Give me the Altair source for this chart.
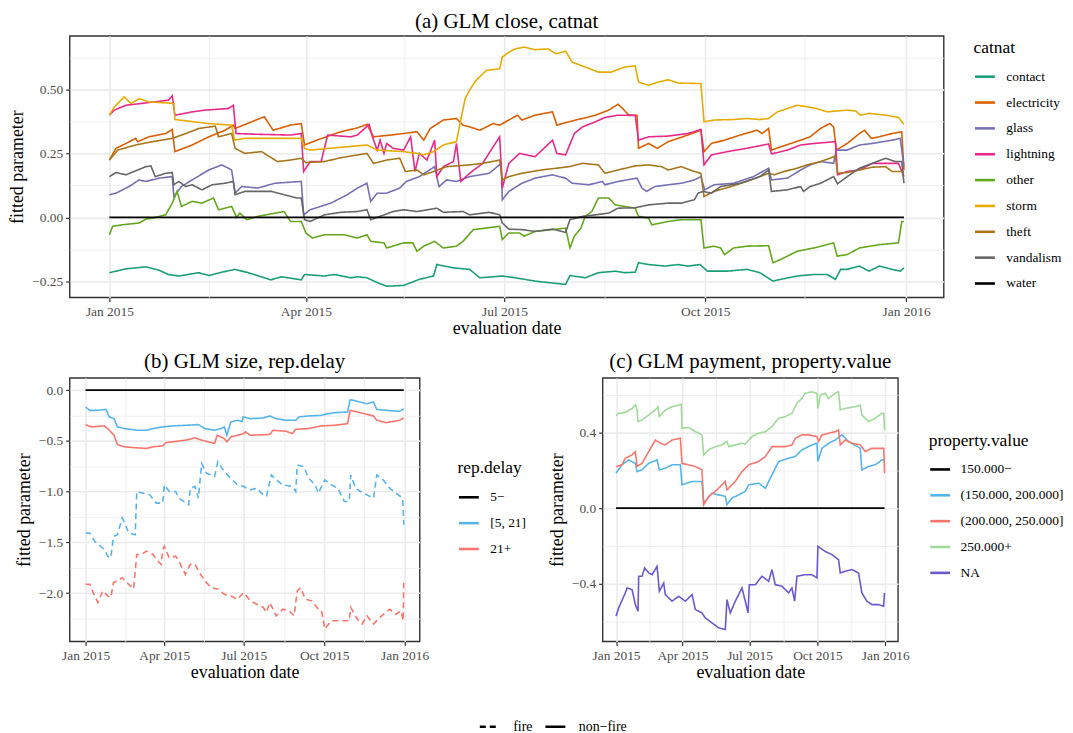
import altair as alt
import pandas as pd

BASE = pd.Timestamp("2015-01-01")
FONT = "Liberation Serif"

# ---------------- panel (a): GLM close, catnat  (day offset from 2015-01-01, value)
CAT_NAMES = ["contact", "electricity", "glass", "lightning", "other", "storm", "theft", "vandalism", "water"]
CAT_COLORS = ["#1B9E77", "#D95F02", "#7570B3", "#E7298A", "#66A61E", "#E6AB02", "#A6761D", "#666666", "#000000"]

CONTACT = [(0,-0.217),(7.6,-0.202),(16.7,-0.194),(22.7,-0.207),(27,-0.224),(31.8,-0.230),(41,-0.217),(45.5,-0.228),
           (51.5,-0.215),(57.6,-0.204),(63.6,-0.217),(71,-0.237),(74,-0.245),(78.8,-0.233),(87.9,-0.245),(89.4,-0.224),
           (98.5,-0.230),(103,-0.224),(110.6,-0.237),(113.6,-0.233),(118,-0.237),(122.7,-0.256),(127,-0.270),(134.8,-0.267),
           (142,-0.243),(148.5,-0.230),(150,-0.185),(157.6,-0.198),(165,-0.204),(169.7,-0.237),(180,-0.230),(186,-0.237),
           (195,-0.250),(209,-0.263),(211,-0.228),(218,-0.237),(224,-0.217),(231.8,-0.211),(236,-0.217),(240.9,-0.215),
           (242.4,-0.178),(247,-0.185),(254.5,-0.191),(260.6,-0.185),(265,-0.191),(270.5,-0.185),(274,-0.211),(283,-0.211),
           (292,-0.204),(298,-0.217),(304,-0.250),(307.6,-0.243),(315,-0.230),(322.7,-0.224),(328.8,-0.224),(332.6,-0.243),
           (335,-0.204),(338,-0.204),(343.6,-0.191),(348,-0.211),(352.7,-0.191),(358.6,-0.204),(362.3,-0.211),(364,-0.198)]
ELECTRICITY = [(0,0.225),(3,0.271),(7.6,0.290),(12,0.310),(13,0.297),(18,0.316),(25.8,0.329),(28.8,0.345),(30,0.258),
               (37.9,0.284),(45.5,0.316),(53,0.342),(56.8,0.362),(57.6,0.349),(71,0.395),(75,0.342),(83,0.362),(87.9,0.368),
               (89.4,0.284),(95,0.303),(106,0.336),(113.6,0.351),(118,0.365),(121,0.316),(128.8,0.323),(134.8,0.329),
               (140.9,0.336),(144,0.303),(147,0.349),(153,0.382),(159,0.388),(162,0.362),(165,0.355),(169.7,0.342),
               (175.8,0.368),(178.8,0.362),(183,0.382),(187,0.401),(189,0.382),(195,0.401),(203,0.414),(205,0.362),
               (213.6,0.382),(216.7,0.388),(222.7,0.401),(228.8,0.421),(233,0.444),(234.8,0.430),(238,0.401),(241.7,0.401),
               (242.4,0.271),(247,0.290),(251,0.271),(256,0.297),(265,0.323),(271,0.342),(272.4,0.258),(275.8,0.290),
               (281.8,0.303),(289,0.323),(296.7,0.342),(299,0.329),(302,0.349),(303.3,0.264),(307.6,0.277),(316.7,0.303),
               (321,0.316),(325.8,0.349),(330,0.368),(331.8,0.355),(333,0.264),(338,0.290),(343.6,0.329),(346,0.342),
               (349,0.310),(352.7,0.316),(358.6,0.329),(363,0.336),(364,0.186)]
GLASS = [(0,0.089),(3,0.095),(9,0.121),(13.6,0.147),(16.7,0.141),(22.7,0.154),(28.8,0.160),(29.5,0.082),(33,0.121),
         (37.9,0.147),(45.5,0.186),(51.5,0.206),(56,0.186),(57.6,0.095),(60.6,0.121),(68,0.115),(75.8,0.134),(87.9,0.141),
         (89,0.010),(92,0.030),(101.5,0.056),(109,0.089),(113.6,0.115),(118,0.134),(119.7,0.063),(122.7,0.095),(127,0.095),
         (133,0.115),(136,0.141),(142,0.160),(149,0.199),(151,0.121),(154.5,0.147),(159,0.141),(165,0.160),(174,0.173),
         (179.5,0.212),(180,0.069),(183,0.102),(189,0.134),(195,0.154),(203,0.167),(209,0.154),(212,0.134),(219.7,0.128),
         (225.8,0.141),(227,0.128),(233,0.141),(241.7,0.154),(244,0.115),(246,0.102),(250,0.121),(256,0.128),(262,0.134),
         (268,0.147),(271,0.160),(272.7,0.108),(277,0.128),(286,0.134),(295,0.160),(302,0.193),(303.3,0.147),(310.6,0.154),
         (316.7,0.186),(321,0.206),(325.8,0.219),(331.8,0.212),(333,0.264),(338,0.264),(343.6,0.284),(349.5,0.290),
         (358.6,0.303),(362.3,0.310),(364,0.199)]
LIGHTNING = [(0,0.401),(2.3,0.421),(7.6,0.440),(16.7,0.449),(27,0.460),(28.8,0.477),(30,0.401),(37.9,0.414),(44,0.421),
             (54.5,0.427),(56.8,0.440),(58,0.329),(68,0.326),(83,0.323),(87.9,0.329),(89,0.180),(92,0.219),(97,0.219),
             (100,0.323),(110.6,0.316),(113.6,0.323),(119,0.365),(120.5,0.316),(122.7,0.264),(124,0.303),(125.8,0.251),
             (127,0.290),(130,0.271),(134.8,0.264),(138,0.316),(140,0.180),(142,0.251),(145.5,0.225),(149,0.303),(150,0.160),
             (153,0.199),(157.6,0.219),(159,0.290),(161,0.141),(165,0.173),(171,0.212),(175.8,0.277),(178.8,0.316),
             (180,0.115),(183,0.212),(187.9,0.251),(195,0.238),(203,0.303),(205,0.251),(209,0.245),(213,0.329),
             (216.7,0.355),(222.7,0.375),(227,0.392),(233,0.401),(240.9,0.400),(242.4,0.303),(247,0.316),(256,0.319),
             (265,0.329),(271,0.345),(272.4,0.206),(275.8,0.245),(283,0.258),(292,0.271),(302,0.288),(303.3,0.249),
             (310.6,0.264),(316.7,0.284),(322.7,0.290),(332.6,0.297),(333.6,0.167),(338,0.180),(343.6,0.186),
             (349.5,0.212),(361.5,0.212),(364,0.160)]
OTHER = [(0,-0.068),(1.5,-0.035),(6,-0.029),(13.6,-0.022),(16.7,-0.007),(19.7,-0.003),(25.8,0.010),(28.8,0.056),(31,0.102),
         (33,0.043),(37.9,0.063),(42.4,0.056),(47.7,0.076),(50,0.030),(56,0.043),(58.3,0.000),(59.8,0.017),(62.9,-0.009),
         (68,0.004),(80,0.023),(83,-0.016),(87.9,-0.016),(90,-0.061),(93,-0.081),(98.5,-0.068),(107.6,-0.068),
         (113.6,-0.081),(118,-0.068),(119.7,-0.094),(125.8,-0.100),(127,-0.120),(134.8,-0.100),(139,-0.100),
         (140.9,-0.133),(144,-0.113),(149,-0.094),(153,-0.120),(159,-0.113),(162,-0.094),(166.7,-0.048),(178.8,-0.035),
         (180,-0.087),(183,-0.061),(187.9,-0.061),(190,-0.074),(195,-0.055),(203,-0.048),(209,-0.042),(211,-0.120),
         (213,-0.074),(216,-0.042),(218,0.004),(221,0.023),(224,0.076),(228.8,0.076),(231.8,0.049),(236,0.043),
         (240.9,0.036),(242.4,0.004),(247,-0.003),(248.5,-0.029),(256,-0.016),(262,-0.009),(271,-0.009),(272.4,-0.120),
         (277,-0.113),(280,-0.120),(281.8,-0.146),(286,-0.120),(292,-0.113),(302,-0.111),(304,-0.178),(307.6,-0.165),
         (315,-0.133),(322.7,-0.120),(331.8,-0.100),(333.4,-0.152),(338,-0.146),(343.6,-0.120),(352.7,-0.107),
         (361.5,-0.100),(363,-0.016),(364,-0.016)]
STORM = [(0,0.401),(2.3,0.434),(6.8,0.473),(9.8,0.447),(13.6,0.466),(18,0.453),(27,0.449),(29.5,0.446),(30,0.384),
         (45.5,0.368),(56,0.362),(57.3,0.303),(62,0.310),(87.9,0.310),(89.4,0.271),(92,0.264),(106,0.275),(118,0.284),
         (122.7,0.264),(134.8,0.258),(140.9,0.251),(144,0.245),(148.5,0.258),(153,0.284),(159,0.297),(160.6,0.368),
         (163,0.466),(165,0.499),(168,0.538),(172.7,0.577),(178.8,0.583),(180,0.629),(183,0.648),(186,0.661),(190,0.668),
         (195,0.658),(201,0.661),(204.5,0.642),(209,0.652),(212,0.609),(218,0.590),(224,0.570),(230,0.570),(236,0.590),
         (240.9,0.594),(242.4,0.531),(247,0.518),(251.5,0.531),(256,0.540),(260.6,0.527),(271,0.525),(272.4,0.375),
         (277,0.382),(286,0.384),(292,0.388),(298,0.384),(302,0.388),(306,0.414),(310.6,0.427),(315,0.440),(319.7,0.434),
         (324,0.427),(328.8,0.414),(338,0.421),(342,0.417),(344,0.401),(348,0.408),(355.6,0.401),(361.5,0.392),(364,0.365)]
THEFT = [(0,0.225),(3.8,0.264),(12,0.284),(19.7,0.297),(28.8,0.310),(35,0.329),(41,0.349),(48.5,0.358),(50,0.316),
         (56,0.329),(57.6,0.271),(62,0.251),(69.7,0.258),(77,0.219),(83,0.225),(87.9,0.232),(90,0.215),(98.5,0.219),
         (106,0.234),(113.6,0.245),(118,0.251),(121,0.212),(127,0.225),(133,0.232),(135.6,0.180),(140.9,0.186),
         (144,0.167),(148.5,0.180),(154.5,0.199),(165,0.206),(171,0.212),(178.8,0.225),(180,0.147),(183,0.160),
         (189,0.173),(198,0.186),(210.6,0.199),(216.7,0.212),(224,0.206),(227,0.173),(233,0.186),(240.9,0.202),
         (247,0.206),(253,0.199),(256,0.186),(262,0.199),(268,0.180),(271,0.173),(272.4,0.082),(277,0.102),
         (284.8,0.121),(292,0.141),(298,0.160),(302,0.173),(304.5,0.167),(309,0.180),(315,0.193),(319.7,0.206),
         (325.8,0.219),(330,0.232),(332.6,0.241),(333.6,0.173),(338,0.176),(343.6,0.186),(349.5,0.197),(355.6,0.199),
         (358.6,0.180),(364,0.180)]
VANDALISM = [(0,0.160),(3,0.176),(7.6,0.167),(16.7,0.199),(19,0.202),(21,0.160),(25.8,0.173),(28.8,0.176),(29.5,0.128),
             (31.8,0.141),(35,0.121),(37.9,0.128),(42.4,0.108),(47,0.128),(53,0.134),(56.8,0.141),(57.6,0.089),(62,0.102),
             (74,0.102),(86,0.076),(87.9,0.076),(89.4,-0.009),(92,-0.016),(98.5,0.010),(106,0.020),(113.6,0.023),
             (118,0.030),(119.7,-0.009),(124,0.004),(130,0.023),(134.8,0.030),(140.9,0.023),(150,0.036),(153,0.020),
             (162,0.023),(165,0.010),(174,0.020),(178.8,0.010),(180,-0.022),(183,-0.046),(189,-0.048),(195,-0.055),
             (203,-0.046),(209,-0.059),(211,-0.009),(216.7,0.004),(222.7,0.010),(228.8,0.017),(233,0.036),(240.9,0.038),
             (247,0.049),(256,0.056),(262,0.056),(268,0.069),(269.7,0.095),(272,0.102),(275.8,0.095),(280,0.121),
             (289,0.134),(298,0.160),(302,0.186),(303.3,0.102),(310.6,0.108),(316.7,0.121),(318,0.102),(321,0.121),
             (325.8,0.134),(331.8,0.160),(333.6,0.132),(338,0.160),(343.6,0.193),(349.5,0.212),(355.6,0.232),(360,0.219),
             (363,0.219),(364,0.134)]
WATER = [(0,0.0),(364,0.0)]

# ---------------- panel (b): GLM size, rep.delay
DELAY_NAMES = ["5\u2212", "[5, 21]", "21+"]
DELAY_COLORS = ["#000000", "#56B4E9", "#F8766D"]
B_BASE = [(0,0.0),(364,0.0)]
B_MID_NONFIRE = [(0,-0.166),(4.8,-0.199),(14.1,-0.199),(23.4,-0.189),(27.1,-0.264),(32.6,-0.281),(36.4,-0.362),
                 (43.8,-0.378),(51.2,-0.385),(58.6,-0.395),(69.7,-0.395),(77.2,-0.378),(88.3,-0.362),(99.4,-0.352),
                 (114.2,-0.346),(129.1,-0.339),(136.5,-0.378),(147.6,-0.395),(155,-0.378),(158.8,-0.362),(161.7,-0.444),
                 (166.2,-0.313),(173.6,-0.297),(179.2,-0.307),(180.3,-0.264),(188.4,-0.281),(203.3,-0.274),(210.7,-0.254),
                 (218.1,-0.281),(229.2,-0.297),(240.4,-0.297),(244.1,-0.264),(255.2,-0.254),(270,-0.248),(277.4,-0.232),
                 (284.9,-0.222),(299.7,-0.215),(302.7,-0.095),(307.1,-0.101),(314.5,-0.117),(321.9,-0.134),(329.4,-0.117),
                 (333.1,-0.189),(344.2,-0.199),(359,-0.209),(364,-0.183)]
B_LATE_NONFIRE = [(0,-0.339),(6.7,-0.362),(21.5,-0.352),(25.2,-0.378),(32.6,-0.444),(36.4,-0.535),(43.8,-0.558),
                  (58.6,-0.568),(69.7,-0.574),(77.2,-0.558),(88.3,-0.548),(92,-0.516),(99.4,-0.509),(114.2,-0.493),
                  (125.4,-0.470),(132.8,-0.493),(147.6,-0.525),(150.6,-0.444),(158.8,-0.477),(161.7,-0.509),(166.2,-0.460),
                  (173.6,-0.444),(181,-0.427),(182.9,-0.411),(188.4,-0.444),(210.7,-0.437),(214.4,-0.395),(229.2,-0.405),
                  (236.6,-0.427),(240.4,-0.385),(255.2,-0.378),(270,-0.352),(284.9,-0.346),(299.7,-0.330),(302.7,-0.199),
                  (314.5,-0.222),(329.4,-0.254),(333.1,-0.297),(344.2,-0.320),(359,-0.297),(364,-0.274)]
B_MID_FIRE = [(0,-1.406),(4.8,-1.406),(10.4,-1.488),(21.5,-1.569),(25.2,-1.635),(28.9,-1.651),(31.9,-1.439),(36.4,-1.423),
              (41.9,-1.259),(45.6,-1.325),(49.3,-1.406),(56.8,-1.423),(58.6,-0.998),(66,-1.015),(73.4,-1.031),(80.9,-1.113),
              (88.3,-1.113),(90.1,-0.933),(95.7,-0.998),(103.1,-0.998),(106.8,-1.064),(118,-1.129),(119.8,-0.966),
              (125.4,-0.949),(129.1,-1.064),(132.8,-0.721),(138.4,-0.819),(143.9,-0.835),(147.6,-0.851),(151.3,-0.705),
              (158.8,-0.803),(166.2,-0.868),(173.6,-0.933),(181,-0.949),(188.4,-0.982),(195.8,-0.966),(203.3,-1.031),
              (207,-1.047),(212.5,-0.835),(218.1,-0.884),(225.5,-0.933),(236.6,-0.949),(240.4,-0.998),(242.2,-0.737),
              (249.6,-0.754),(255.2,-0.868),(262.6,-0.933),(266.3,-1.015),(273.7,-0.884),(281.2,-0.933),(288.6,-0.966),
              (296,-1.096),(301.6,-1.096),(303.4,-0.835),(309,-0.966),(314.5,-0.998),(321.9,-1.031),(329.4,-1.064),
              (333.1,-0.835),(340.5,-0.884),(347.9,-0.966),(355.3,-1.015),(362.8,-1.064),(364,-1.325)]
B_LATE_FIRE = [(0,-1.912),(4.8,-1.912),(10.4,-2.026),(14.1,-2.091),(19.7,-1.977),(25.2,-2.026),(28.9,-2.042),
               (31.9,-1.896),(36.4,-1.879),(41.9,-1.847),(47.5,-1.896),(54.9,-1.958),(58.6,-1.618),(64.2,-1.618),
               (69.7,-1.586),(77.2,-1.618),(80.9,-1.667),(86.4,-1.716),(88.3,-1.569),(90.1,-1.537),(95.7,-1.651),
               (103.1,-1.635),(106.8,-1.684),(114.2,-1.814),(119.8,-1.716),(125.4,-1.716),(129.1,-1.781),(136.5,-1.879),
               (143.9,-1.945),(151.3,-1.958),(158.8,-2.010),(166.2,-2.026),(173.6,-2.059),(181,-1.994),(188.4,-2.075),
               (195.8,-2.108),(203.3,-2.140),(207,-2.189),(210.7,-2.091),(218.1,-2.222),(225.5,-2.157),(232.9,-2.173),
               (238.5,-2.222),(242.2,-1.977),(245.9,-1.945),(251.5,-2.059),(258.9,-2.075),(266.3,-2.157),(270,-2.173),
               (273.7,-2.352),(281.2,-2.271),(292.3,-2.271),(301.6,-2.271),(303.4,-2.140),(310.8,-2.254),(316.4,-2.303),
               (321.9,-2.222),(329.4,-2.303),(336.8,-2.238),(347.9,-2.157),(355.3,-2.206),(360.9,-2.173),(363.3,-2.271),
               (364,-1.896)]

# ---------------- panel (c): GLM payment, property.value
PROP_NAMES = ["150.000\u2212", "(150.000, 200.000]", "(200.000, 250.000]", "250.000+", "NA"]
PROP_COLORS = ["#000000", "#56B4E9", "#F8766D", "#A1D99B", "#6A5ACD"]
C_BASE = [(0,0.0),(364,0.0)]
C_150 = [(0,0.185),(8.1,0.229),(17.2,0.255),(26.2,0.237),(28.5,0.193),(35.2,0.202),(44.3,0.237),(55.6,0.255),(58.7,0.202),
         (66.8,0.211),(75.9,0.229),(87.2,0.229),(89.4,0.123),(103,0.141),(116.5,0.141),(118.8,0.026),(130.1,0.079),
         (139.1,0.070),(148.1,0.062),(150.4,0.018),(157.2,0.053),(166.2,0.070),(175.2,0.088),(179.8,0.123),(193.3,0.132),
         (202.4,0.105),(211.4,0.176),(220.4,0.246),(234,0.264),(243,0.273),(252,0.308),(265.6,0.334),(272.4,0.343),
         (273.7,0.246),(279.1,0.316),(288.2,0.343),(297.2,0.360),(306.2,0.387),(315.3,0.352),(331.1,0.316),(333.3,0.202),
         (342.4,0.220),(351.4,0.229),(360.4,0.255),(364,0.255)]
C_200 = [(0,0.220),(8.1,0.229),(12.6,0.264),(21.7,0.281),(26.2,0.299),(28.5,0.220),(35.2,0.237),(44.3,0.299),(53.3,0.360),
         (60.1,0.343),(66.8,0.334),(75.9,0.360),(87.2,0.369),(89.4,0.237),(107.5,0.220),(116.5,0.202),(118.8,0.018),
         (125.6,0.062),(134.6,0.088),(143.6,0.123),(148.1,0.141),(150.4,0.097),(161.7,0.141),(170.7,0.193),(179.8,0.229),
         (193.3,0.246),(202.4,0.273),(211.4,0.325),(229.4,0.325),(238.5,0.334),(243,0.369),(252,0.387),(261,0.387),
         (272.4,0.378),(274.6,0.352),(279.1,0.387),(288.2,0.396),(297.2,0.404),(301.7,0.413),(304,0.334),(310.8,0.360),
         (319.8,0.343),(331.1,0.334),(337.9,0.299),(346.9,0.316),(363,0.316),(364,0.185)]
C_250 = [(0,0.489),(3.6,0.501),(12.6,0.506),(21.7,0.527),(26.2,0.545),(28.5,0.519),(29.8,0.457),(35.2,0.466),(44.3,0.492),
         (53.3,0.519),(56.9,0.536),(58.7,0.484),(66.8,0.519),(75.9,0.536),(84.9,0.545),(88.5,0.549),(89.4,0.422),
         (98.5,0.426),(107.5,0.404),(116.5,0.387),(118.8,0.281),(125.6,0.308),(134.6,0.325),(143.6,0.334),(150.4,0.352),
         (152.7,0.325),(161.7,0.334),(170.7,0.343),(175.2,0.338),(184.3,0.378),(193.3,0.396),(202.4,0.404),(211.4,0.431),
         (220.4,0.475),(229.4,0.484),(238.5,0.501),(245.3,0.554),(252,0.580),(256.5,0.607),(265.6,0.615),(272.4,0.607),
         (273.7,0.527),(276.9,0.598),(283.6,0.607),(288.2,0.580),(297.2,0.607),(301.7,0.615),(304,0.519),(310.8,0.527),
         (324.3,0.536),(331.1,0.545),(333.3,0.492),(342.4,0.457),(351.4,0.475),(360.4,0.501),(363,0.501),(364,0.413)]
C_NA = [(0,-0.571),(3.6,-0.527),(12.6,-0.448),(14.9,-0.422),(21.7,-0.431),(26.2,-0.510),(29.8,-0.545),(30.7,-0.360),
        (35.2,-0.360),(38.8,-0.316),(44.3,-0.343),(48.8,-0.352),(55.6,-0.308),(58.7,-0.440),(64.6,-0.396),(66.8,-0.457),
        (75.9,-0.492),(84.9,-0.466),(94,-0.492),(103,-0.457),(107.5,-0.536),(116.5,-0.554),(121,-0.580),(130.1,-0.607),
        (139.1,-0.633),(148.1,-0.642),(150.4,-0.484),(154.9,-0.554),(161.7,-0.492),(170.7,-0.422),(175.2,-0.492),
        (178.9,-0.554),(180.7,-0.405),(188.8,-0.405),(197.8,-0.360),(206.9,-0.387),(211.4,-0.325),(215.9,-0.405),
        (224.9,-0.413),(234,-0.448),(238.5,-0.422),(242.1,-0.492),(245.3,-0.360),(256.5,-0.352),(265.6,-0.352),
        (272.4,-0.369),(273.7,-0.202),(283.6,-0.229),(292.7,-0.246),(301.7,-0.273),(304,-0.343),(310.8,-0.334),
        (319.8,-0.325),(328.8,-0.343),(333.3,-0.448),(340.1,-0.492),(346.9,-0.510),(355.9,-0.510),(362.7,-0.519),
        (364,-0.448)]

DASH_NAMES = ["fire", "non\u2212fire"]
FIRE, NONFIRE = DASH_NAMES


def build(series):
    rows = []
    for name, kind, pts in series:
        for d, v in pts:
            rows.append({"cat": name, "type": kind,
                         "date": (BASE + pd.Timedelta(days=d)).strftime("%Y-%m-%dT%H:%M:%S"),
                         "value": v})
    return pd.DataFrame(rows)


df_a = build([(n, NONFIRE, s) for n, s in zip(CAT_NAMES, [CONTACT, ELECTRICITY, GLASS, LIGHTNING, OTHER, STORM,
                                                           THEFT, VANDALISM, WATER])])
df_b = build([(DELAY_NAMES[0], NONFIRE, B_BASE),
              (DELAY_NAMES[1], FIRE, B_MID_FIRE), (DELAY_NAMES[2], FIRE, B_LATE_FIRE),
              (DELAY_NAMES[1], NONFIRE, B_MID_NONFIRE), (DELAY_NAMES[2], NONFIRE, B_LATE_NONFIRE)])
df_c = build([(n, NONFIRE, s) for n, s in zip(PROP_NAMES, [C_BASE, C_150, C_200, C_250, C_NA])])

MAJOR = [alt.DateTime(year=2015, month=m, date=1) for m in (1, 4, 7, 10)] + [alt.DateTime(year=2016, month=1, date=1)]
MINOR = [alt.DateTime(year=2015, month=2, date=15, hours=12), alt.DateTime(year=2015, month=5, date=16),
         alt.DateTime(year=2015, month=8, date=16), alt.DateTime(year=2015, month=11, date=15, hours=12)]
XDOM = [alt.DateTime(year=2014, month=12, date=13, hours=19), alt.DateTime(year=2016, month=1, date=18, hours=5)]

GRID = "#EBEBEB"
MAJ_X = "date(datum.value) == 1"


def x_enc():
    return alt.X("date:T", title="evaluation date",
                 scale=alt.Scale(domain=XDOM, nice=False),
                 axis=alt.Axis(values=MAJOR + MINOR, labelOverlap=False, labelFlush=False, titlePadding=2,
                               labelExpr=f"{MAJ_X} ? timeFormat(datum.value, '%b %Y') : ''",
                               gridWidth={"condition": {"test": MAJ_X, "value": 1.6}, "value": 0.8},
                               tickOpacity={"condition": {"test": MAJ_X, "value": 1}, "value": 0}))


def y_enc(domain, major, minor, fmt):
    step = major[0] - major[1]
    test = f"abs(datum.value / {step} - round(datum.value / {step})) < 0.001"
    return alt.Y("value:Q", title="fitted parameter",
                 scale=alt.Scale(domain=domain, nice=False, zero=False),
                 axis=alt.Axis(values=major + minor, labelOverlap=False, labelFlush=False, titlePadding=5,
                               labelExpr=f"{test} ? format(datum.value, '{fmt}') : ''",
                               gridWidth={"condition": {"test": test, "value": 1.6}, "value": 0.8},
                               tickOpacity={"condition": {"test": test, "value": 1}, "value": 0}))


def color_enc(title, names, colors, lx, ly, loff):
    return alt.Color("cat:N", scale=alt.Scale(domain=names, range=colors),
                     legend=alt.Legend(title=title, orient="none", legendX=lx, legendY=ly,
                                       symbolType="stroke", symbolSize=400,
                                       symbolStrokeWidth=2.6, rowPadding=8, labelOffset=loff,
                                       titlePadding=9, labelFontSize=13.5, titleFontSize=17.5))


dash_enc = alt.StrokeDash("type:N", scale=alt.Scale(domain=DASH_NAMES, range=[[6, 4], [1, 0]]),
                          legend=alt.Legend(title=None, orient="none", direction="horizontal",
                                            legendX=411, legendY=683, symbolType="stroke", symbolSize=400,
                                            symbolStrokeColor="black", symbolStrokeWidth=2.6,
                                            labelOffset=12, columnPadding=7, labelFontSize=14))


def panel(df, title, ltitle, names, colors, ydom, ymaj, ymin, fmt, w, h, lx, ly, loff, toff):
    return alt.Chart(df).mark_line(strokeWidth=1.6).encode(
        x=x_enc(),
        y=y_enc(ydom, ymaj, ymin, fmt),
        color=color_enc(ltitle, names, colors, lx, ly, loff),
        strokeDash=dash_enc,
        detail="type:N",
    ).properties(width=w, height=h,
                 title=alt.TitleParams(title, fontSize=21, font=FONT, fontWeight="normal", offset=toff))


pa = panel(df_a, "(a) GLM close, catnat", "catnat", CAT_NAMES, CAT_COLORS, [-0.314, 0.712],
           [0.5, 0.25, 0.0, -0.25], [0.625, 0.375, 0.125, -0.125], ".2f", 879, 263, 909, 3, 10, 4)
pb = panel(df_b, "(b) GLM size, rep.delay", "rep.delay", DELAY_NAMES, DELAY_COLORS, [-2.475, 0.12],
           [0.0, -0.5, -1.0, -1.5, -2.0], [-0.25, -0.75, -1.25, -1.75, -2.25], ".1f", 352, 265, 390, 82, 10, 6)
pc = panel(df_c, "(c) GLM payment, property.value", "property.value", PROP_NAMES, PROP_COLORS, [-0.705, 0.688],
           [0.4, 0.0, -0.4], [0.6, 0.2, -0.2, -0.6], ".1f", 297, 265, 328, 54, 9, 6)

bottom = alt.hconcat(pb, pc, spacing=20).resolve_scale(color="independent", strokeDash="shared")
chart = alt.vconcat(alt.hconcat(pa), bottom, spacing=11).resolve_scale(
    color="independent", strokeDash="shared"
).properties(padding={"left": 0, "top": 0, "right": 0, "bottom": 0}).configure(
    font=FONT, background="white"
).configure_view(
    stroke="#333333", strokeWidth=1.4
).configure_axis(
    domain=False, gridColor=GRID, tickColor="#333333", tickSize=4, tickWidth=1.2,
    labelFont=FONT, labelFontSize=13.5, labelColor="#4D4D4D", labelPadding=3,
    titleFont=FONT, titleFontSize=18, titleFontWeight="normal", titleColor="black"
).configure_legend(
    labelFont=FONT, titleFont=FONT, titleFontWeight="normal", labelColor="black", titleColor="black", padding=0
)

chart.save("out.html", embed_options={"renderer": "svg", "actions": False})
